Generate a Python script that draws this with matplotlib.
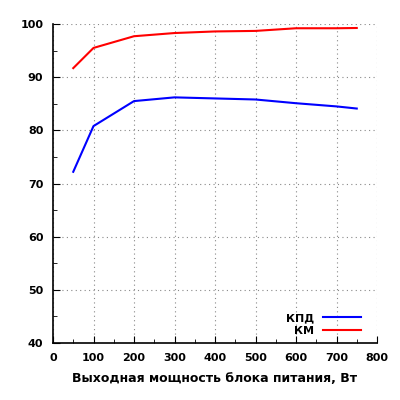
import matplotlib
matplotlib.use("Agg")
import matplotlib.pyplot as plt
from matplotlib.ticker import MultipleLocator

power = [50, 100, 200, 300, 400, 500, 600, 700, 750]
kpd = [72.2, 80.8, 85.5, 86.2, 86.0, 85.8, 85.1, 84.5, 84.1]
km = [91.7, 95.5, 97.7, 98.3, 98.6, 98.7, 99.2, 99.2, 99.25]

plt.rcParams['font.family'] = ['DejaVu Sans']
plt.rcParams['font.weight'] = 'bold'
plt.rcParams['font.size'] = 8

fig = plt.figure(figsize=(4, 4), dpi=100)
ax = fig.add_axes([0.1325, 0.1425, 0.81, 0.7975])
ax.plot(power, kpd, color='#0000ff', lw=1.5, label='КПД')
ax.plot(power, km, color='#ff0000', lw=1.5, label='КМ')
ax.set_xlim(0, 800)
ax.set_ylim(40, 100)
ax.xaxis.set_major_locator(MultipleLocator(100))
ax.xaxis.set_minor_locator(MultipleLocator(50))
ax.yaxis.set_major_locator(MultipleLocator(10))
ax.yaxis.set_minor_locator(MultipleLocator(5))
ax.grid(True, which='major', color='#888888', linestyle=(0, (1, 3)), lw=0.8)
ax.tick_params(which='both', direction='in', top=False, right=False)
ax.tick_params(which='major', length=5)
ax.tick_params(which='minor', length=3)
ax.tick_params(axis='x', which='major', pad=7.5)
ax.tick_params(axis='y', which='major', pad=7)
for s in ['top', 'right']:
    ax.spines[s].set_visible(False)
for s in ['left', 'bottom']:
    ax.spines[s].set_linewidth(1.2)
ax.set_xlabel('Выходная мощность блока питания, Вт', fontsize=9, fontweight='bold', labelpad=6)
ax.legend(loc='lower right', frameon=False, markerfirst=False, handlelength=3.4,
          borderaxespad=0.0, labelspacing=0.25, handletextpad=0.8,
          bbox_to_anchor=(0.964, 0.008))
fig.savefig('out.png', dpi=100)
